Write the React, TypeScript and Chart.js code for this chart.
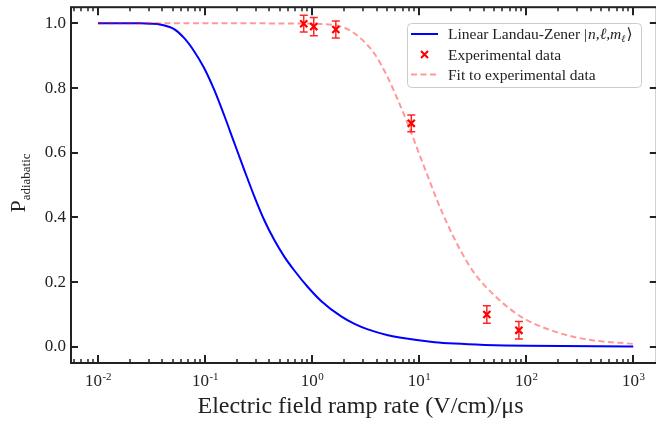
import React, { useEffect, useRef } from "react";
import { Chart, registerables } from "chart.js";

Chart.register(...registerables);

// Linear Landau-Zener curve
const lzRate = [0.01, 0.0251, 0.0311, 0.0386, 0.0514, 0.0637, 0.0791, 0.0981, 0.1217, 0.151, 0.187, 0.232, 0.288, 0.357, 0.444, 0.55, 0.683, 0.912, 1.214, 1.87, 2.49, 3.32, 5.11, 6.81, 13.97, 21.5, 41, 100, 1000];
const lzProb = [1.0, 1.0, 0.999, 0.996, 0.982, 0.955, 0.914, 0.862, 0.795, 0.716, 0.632, 0.548, 0.466, 0.392, 0.33, 0.279, 0.236, 0.185, 0.142, 0.094, 0.071, 0.054, 0.036, 0.028, 0.0145, 0.01, 0.006, 0.003, 0.001];

const fitRate = [0.01, 0.3, 0.8, 1.214, 1.87, 2.32, 2.88, 3.83, 5.11, 6.35, 7.87, 9.77, 12.1, 15.0, 18.7, 24.9, 33.1, 50.9, 90.6, 186, 381, 1000];
const fitProb = [1.0, 1.0, 0.9995, 0.998, 0.99, 0.976, 0.952, 0.906, 0.832, 0.762, 0.688, 0.606, 0.526, 0.446, 0.374, 0.292, 0.226, 0.158, 0.092, 0.047, 0.022, 0.009];

// Experimental data
const expRate = [0.836, 1.037, 1.667, 8.45, 42.9, 85.5];
const expProb = [0.999, 0.99, 0.981, 0.691, 0.1, 0.051];
const expErr = [0.026, 0.028, 0.026, 0.026, 0.027, 0.027];

const xMajorExps = [-2, -1, 0, 1, 2, 3];
const yTickVals = [0, 0.2, 0.4, 0.6, 0.8, 1.0];

const legendLabels = ["Linear Landau-Zener ", "Experimental data", "Fit to experimental data"];
const xTitle = "Electric field ramp rate (V/cm)/μs";

const SERIF = '"Liberation Serif", "DejaVu Serif", serif';
const INK = "#222222";
const PINK = "rgba(255,0,0,0.4)";

const overlay = {
  id: "overlay",
  beforeDatasetsDraw(chart: any) {
    const ctx = chart.ctx;
    const xs = chart.scales.x;
    const ys = chart.scales.y;
    ctx.save();
    ctx.strokeStyle = "rgba(255,0,0,0.85)";
    ctx.lineWidth = 1.5;
    for (let i = 0; i < expRate.length; i++) {
      const px = xs.getPixelForValue(expRate[i]);
      const y1 = ys.getPixelForValue(expProb[i] + expErr[i]);
      const y2 = ys.getPixelForValue(expProb[i] - expErr[i]);
      ctx.beginPath();
      ctx.moveTo(px, y1);
      ctx.lineTo(px, y2);
      ctx.moveTo(px - 4, y1);
      ctx.lineTo(px + 4, y1);
      ctx.moveTo(px - 4, y2);
      ctx.lineTo(px + 4, y2);
      ctx.stroke();
    }
    ctx.restore();
  },
  afterDraw(chart: any) {
    const ctx = chart.ctx;
    const xs = chart.scales.x;
    const ys = chart.scales.y;
    const a = chart.chartArea;
    ctx.save();

    // ticks
    ctx.strokeStyle = INK;
    for (let e = -3; e <= 4; e++) {
      for (let m = 1; m <= 9; m++) {
        const v = m * Math.pow(10, e);
        if (v < xs.min || v > xs.max) continue;
        const px = Math.round(xs.getPixelForValue(v));
        const major = m === 1;
        const len = major ? 8 : 4;
        ctx.lineWidth = major ? 2 : 1.5;
        ctx.beginPath();
        ctx.moveTo(px, a.bottom);
        ctx.lineTo(px, a.bottom - len);
        ctx.moveTo(px, a.top);
        ctx.lineTo(px, a.top + len);
        ctx.stroke();
      }
    }
    ctx.lineWidth = 2;
    for (const v of yTickVals) {
      const py = Math.round(ys.getPixelForValue(v));
      ctx.beginPath();
      ctx.moveTo(a.left, py);
      ctx.lineTo(a.left + 7, py);
      ctx.moveTo(a.right, py);
      ctx.lineTo(a.right - 7, py);
      ctx.stroke();
    }

    // spines
    ctx.lineWidth = 2;
    ctx.strokeRect(a.left, a.top, a.right - a.left, a.bottom - a.top);

    // y tick labels
    ctx.fillStyle = INK;
    ctx.font = `17px ${SERIF}`;
    ctx.textAlign = "right";
    ctx.textBaseline = "middle";
    for (const v of yTickVals) {
      ctx.fillText(v.toFixed(1), a.left - 5, ys.getPixelForValue(v));
    }

    // x tick labels 10^e
    ctx.textAlign = "left";
    ctx.textBaseline = "alphabetic";
    for (const e of xMajorExps) {
      const px = xs.getPixelForValue(Math.pow(10, e));
      ctx.font = `17px ${SERIF}`;
      const wBase = ctx.measureText("10").width;
      const sup = e < 0 ? "-" + Math.abs(e) : String(e);
      ctx.font = `11px ${SERIF}`;
      const wSup = ctx.measureText(sup).width;
      const x0 = px - (wBase + wSup) / 2;
      ctx.font = `17px ${SERIF}`;
      ctx.fillText("10", x0, 386);
      ctx.font = `11px ${SERIF}`;
      ctx.fillText(sup, x0 + wBase + 0.5, 380);
    }

    // x title
    ctx.font = `24px ${SERIF}`;
    ctx.textAlign = "center";
    ctx.fillText(xTitle, (a.left + 650) / 2, 413);

    // y title: P_adiabatic rotated
    ctx.save();
    ctx.translate(25, 183);
    ctx.rotate(-Math.PI / 2);
    ctx.textAlign = "left";
    ctx.font = `22px ${SERIF}`;
    const wP = ctx.measureText("P").width;
    ctx.font = `13px ${SERIF}`;
    const wSub = ctx.measureText("adiabatic").width;
    const start = -(wP + wSub) / 2;
    ctx.font = `22px ${SERIF}`;
    ctx.fillText("P", start, 0);
    ctx.font = `13px ${SERIF}`;
    ctx.fillText("adiabatic", start + wP, 5);
    ctx.restore();

    // legend
    const lx = 407, ly = 23, lw = 234, lh = 64;
    ctx.beginPath();
    ctx.roundRect(lx + 0.5, ly + 0.5, lw, lh, 4);
    ctx.fillStyle = "rgba(255,255,255,0.85)";
    ctx.fill();
    ctx.strokeStyle = "#cccccc";
    ctx.lineWidth = 1;
    ctx.stroke();

    const rows = [34, 54.5, 74.5];
    // row 1: blue line
    ctx.strokeStyle = "#0000ff";
    ctx.lineWidth = 2;
    ctx.beginPath();
    ctx.moveTo(411, rows[0]);
    ctx.lineTo(438, rows[0]);
    ctx.stroke();
    // row 2: red x
    ctx.strokeStyle = "#ff0000";
    ctx.lineWidth = 2;
    ctx.beginPath();
    ctx.moveTo(421, rows[1] - 3.5);
    ctx.lineTo(428, rows[1] + 3.5);
    ctx.moveTo(428, rows[1] - 3.5);
    ctx.lineTo(421, rows[1] + 3.5);
    ctx.stroke();
    // row 3: dashed pink
    ctx.strokeStyle = PINK;
    ctx.setLineDash([6, 3.5]);
    ctx.beginPath();
    ctx.moveTo(411, rows[2]);
    ctx.lineTo(438, rows[2]);
    ctx.stroke();
    ctx.setLineDash([]);

    ctx.fillStyle = INK;
    ctx.textAlign = "left";
    ctx.textBaseline = "middle";
    const tx = 448;
    ctx.font = `15.5px ${SERIF}`;
    ctx.fillText(legendLabels[0], tx, rows[0] + 1);
    let cx = tx + ctx.measureText(legendLabels[0]).width;
    ctx.fillText("|", cx, rows[0] + 1);
    cx += ctx.measureText("|").width + 1;
    ctx.font = `italic 15.5px ${SERIF}`;
    ctx.fillText("n,ℓ,m", cx, rows[0] + 1);
    cx += ctx.measureText("n,ℓ,m").width;
    ctx.font = `italic 10px ${SERIF}`;
    ctx.fillText("ℓ", cx, rows[0] + 5);
    cx += ctx.measureText("ℓ").width + 1;
    ctx.font = `15.5px ${SERIF}`;
    ctx.fillText("⟩", cx, rows[0] + 1);
    ctx.fillText(legendLabels[1], tx, rows[1] + 1);
    ctx.fillText(legendLabels[2], tx, rows[2] + 1);

    ctx.restore();
  },
};

export default function App() {
  const ref = useRef<HTMLCanvasElement>(null);
  useEffect(() => {
    if (!ref.current) return;
    const chart = new Chart(ref.current, {
      type: "line",
      data: {
        datasets: [
          {
            label: "Experimental data",
            type: "scatter",
            data: expRate.map((r, i) => ({ x: r, y: expProb[i] })),
            showLine: false,
            pointStyle: "crossRot",
            pointRadius: 5,
            pointBorderWidth: 2.2,
            pointBorderColor: "#ff0000",
            backgroundColor: "#ff0000",
            borderColor: "#ff0000",
            order: 0,
          } as any,
          {
            label: "Fit to experimental data",
            data: fitRate.map((r, i) => ({ x: r, y: fitProb[i] })),
            borderColor: PINK,
            borderWidth: 2,
            borderDash: [6, 3.5],
            pointRadius: 0,
            cubicInterpolationMode: "monotone",
            fill: false,
            order: 1,
          },
          {
            label: "Linear Landau-Zener",
            data: lzRate.map((r, i) => ({ x: r, y: lzProb[i] })),
            borderColor: "#0000ff",
            borderWidth: 2,
            pointRadius: 0,
            cubicInterpolationMode: "monotone",
            fill: false,
            order: 2,
          },
        ],
      },
      options: {
        responsive: false,
        animation: false,
        devicePixelRatio: 1,
        layout: { padding: { left: 71, top: 5, right: 7, bottom: 62 } },
        plugins: { legend: { display: false }, tooltip: { enabled: false } },
        scales: {
          x: { type: "logarithmic", min: 0.0056, max: 1660, display: false },
          y: { type: "linear", min: -0.05, max: 1.05, display: false },
        },
      },
      plugins: [overlay],
    });
    return () => chart.destroy();
  }, []);
  return (
    <div style={{ position: "fixed", left: 0, top: 0, width: 656, height: 425, overflow: "hidden", background: "#fff" }}>
      <canvas ref={ref} width={664} height={425} style={{ display: "block" }} />
    </div>
  );
}
